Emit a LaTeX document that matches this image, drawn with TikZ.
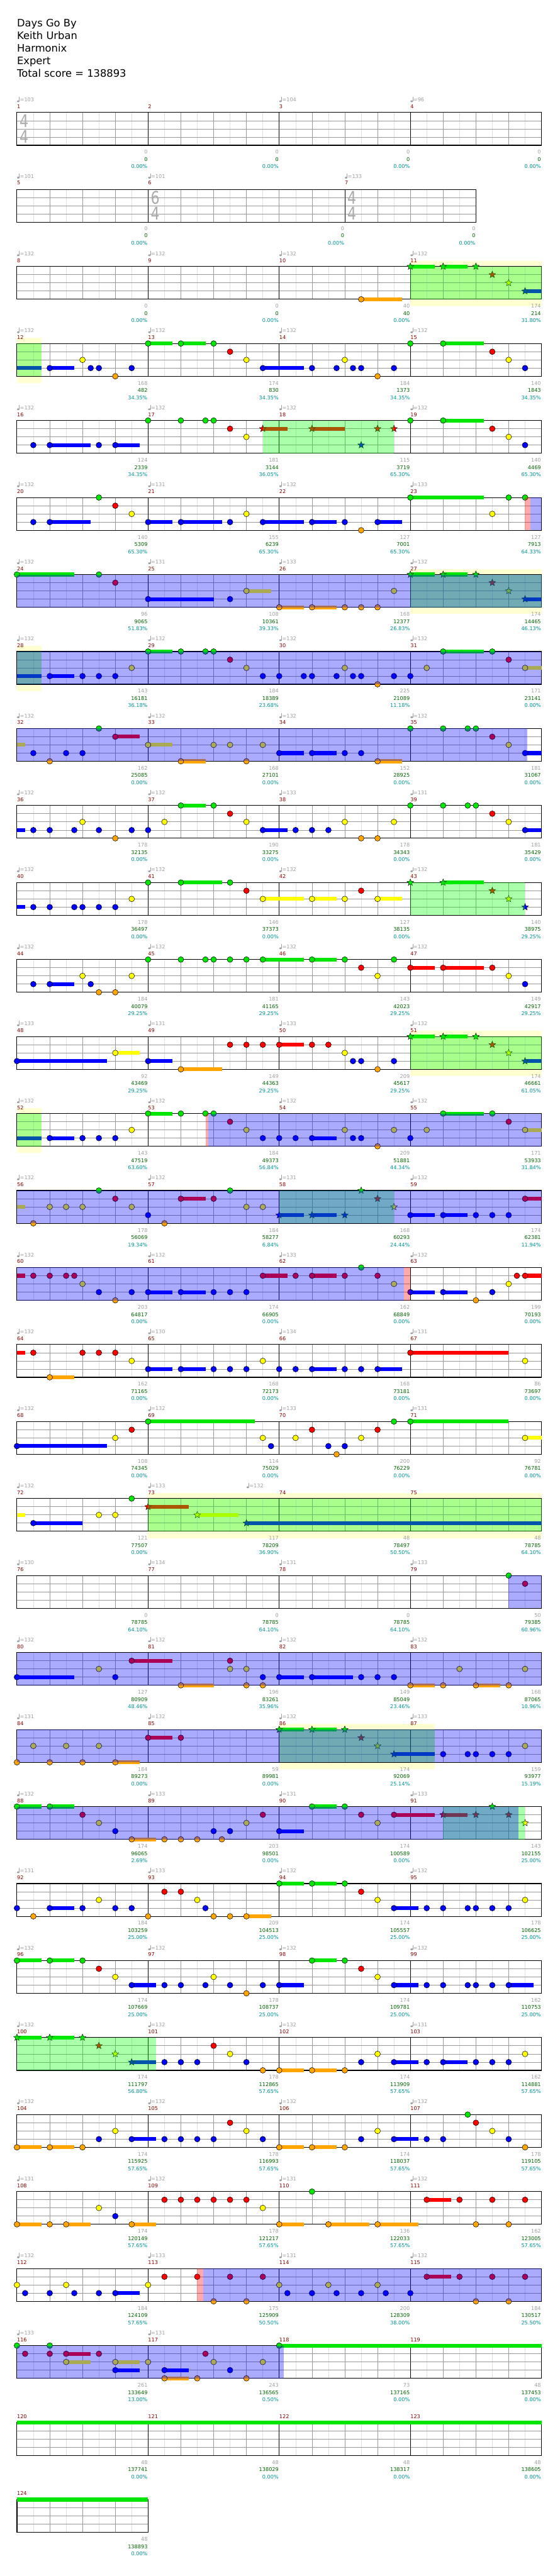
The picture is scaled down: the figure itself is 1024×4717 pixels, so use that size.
\documentclass[tikz,border=0pt]{standalone}
\usepackage{fontspec}
\setmainfont{DejaVu Sans}
\usetikzlibrary{shapes.geometric}
\definecolor{c0}{RGB}{0,230,0}
\definecolor{c1}{RGB}{255,0,0}
\definecolor{c2}{RGB}{255,255,0}
\definecolor{c3}{RGB}{0,0,255}
\definecolor{c4}{RGB}{255,165,0}
\definecolor{mred}{RGB}{140,0,0}
\definecolor{tgrey}{RGB}{160,160,160}
\definecolor{ngreen}{RGB}{0,100,0}
\definecolor{ncyan}{RGB}{0,150,150}
\definecolor{lgrey}{RGB}{153,153,153}
\definecolor{hgrey}{RGB}{222,222,222}
\definecolor{yband}{RGB}{255,255,210}
\definecolor{ovg}{RGB}{0,255,0}
\definecolor{sgrey}{RGB}{170,170,170}
\tikzset{
 num/.style={inner sep=0pt,font=\fontsize{9.4}{11}\selectfont},
 starnote/.style={star,star points=5,star point ratio=2.3,minimum size=13pt,inner sep=0pt,draw=black,line width=0.5pt},
 tsig/.style={sgrey,inner sep=0pt,anchor=base,font=\fontsize{32}{32}\selectfont,xscale=0.8},
 title/.style={inner sep=0pt,anchor=base west,font=\fontsize{18.8}{22}\selectfont}
}
\newenvironment{trow}[1]{\pgfmathsetmacro\Yr{206+141*(#1-1)}\begin{scope}[shift={(31pt,-\Yr pt)},x=60pt,y=-15pt]}{\end{scope}}
\newcommand\grid[2]{%
 \foreach \gi in {0.5,1.5,...,#1} \draw[hgrey,line width=0.6pt] (\gi,0)--(\gi,4);
 \pgfmathtruncatemacro\gNm{#1-1}%
 \foreach \gi in {1,...,\gNm} \draw[lgrey,line width=0.7pt] (\gi,0)--(\gi,4);
 \foreach \gj in {1,2,3} \draw[lgrey,line width=0.9pt] (0,\gj)--(#1,\gj);
 \foreach \gi in {#2} \draw[black,line width=0.7pt] (\gi,0)--(\gi,4);
 \draw[black,line width=1.3pt] (0,0) rectangle (#1,4);
}
\newcommand\Nt[1]{\foreach \nb/\nl in {#1}{\filldraw[fill=c\nl,draw=black,line width=0.6pt] (\nb,\nl) circle[radius=5.2pt];}}
\newcommand\Su[1]{\foreach \sa/\se/\sl in {#1}{\draw[c\sl,line width=7pt] (\sa,\sl) -- (\se,\sl);}}
\newcommand\Sr[1]{\foreach \nb/\nl in {#1}{\node[starnote,fill=c\nl] at (\nb,\nl) {};}}
\newcommand\ovG[2]{\fill[ovg,fill opacity=0.333] (#1,0) rectangle (#2,4);}
\newcommand\ovB[2]{\fill[blue,fill opacity=0.333] (#1,0) rectangle (#2,4);}
\newcommand\ovR[2]{\fill[red,fill opacity=0.333] (#1,0) rectangle (#2,4);}
\newcommand\ybnd[2]{\fill[yband] (#1,-0.69) rectangle (#2,4.82);}
\newcommand\tempo[3]{%
 \fill[tgrey] (#1+2.4,#2-20.6) ellipse (2.3pt and 1.7pt);
 \draw[tgrey,line width=0.6pt] (#1+4.4,#2-20.6) -- (#1+4.4,#2-28.5);
 \node[num,tgrey,anchor=base west] at (#1+5.3,#2-20) {=#3};}
\newcommand\stat[5]{%
 \node[num,tgrey,anchor=base east] at (#1-0.8,#2+76) {#3};
 \node[num,ngreen,anchor=base east] at (#1-0.8,#2+89.3) {#4};
 \node[num,ncyan,anchor=base east] at (#1-0.8,#2+102.5) {#5\%};}
\newcommand\mnum[3]{\node[num,mred,anchor=base west] at (#1,#2-7.5) {#3};}
\newcommand\TRow[4]{%
 \pgfmathsetmacro\Yr{206+141*(#1-1)}%
 \foreach \tt [count=\tk from 0] in {#3} {\ifnum\tt>0 \tempo{31+240*\tk}{\Yr}{\tt}\fi}
 \foreach \tk in {0,...,3} {\pgfmathtruncatemacro\mm{#2+\tk}\mnum{31+240*\tk}{\Yr}{\mm}}
 \foreach \sg/\sn/\sp [count=\tk] in {#4} {\stat{31+240*\tk}{\Yr}{\sg}{\sn}{\sp}}
}
\begin{document}
\begin{tikzpicture}[x=1pt,y=-1pt]
\useasboundingbox (0,0) rectangle (1024,4717);
\fill[white] (0,0) rectangle (1024,4717);
\node[title] (t1) at (31,49) {Days Go By};
\node[title] (t2) at (31,72) {Keith Urban};
\node[title] (t3) at (31,95) {Harmonix};
\node[title] (t4) at (31,118) {Expert};
\node[title] (t5) at (31,141) {Total score = 138893};
% row 1
\begin{trow}{1}\grid{16}{4,8,12}\end{trow}
\node[tsig] at (44,233.3) {4};
\node[tsig] at (44,261.7) {4};
% row 2
\begin{trow}{2}\grid{14}{4,10}\end{trow}
\node[tsig] at (284,373.3) {6};
\node[tsig] at (284,403) {4};
\node[tsig] at (644,373.3) {4};
\node[tsig] at (644,403) {4};
% row 3
\begin{trow}{3}\ybnd{12}{16}\grid{16}{4,8,12}
\Su{10.5/11.75/4, 12/12.75/0, 13/13.75/0, 15.5/16/3}
\Nt{10.5/4}
\Sr{12/0,13/0,14/0,14.5/1,15/2,15.5/3}
\ovG{12}{16}\end{trow}
% row 4
\begin{trow}{4}\ybnd{0}{0.75}\grid{16}{4,8,12}
\Su{0/0.75/3, 1/1.75/3, 4/4.75/0, 5/5.75/0, 7.5/8.75/3, 13/14.25/0}
\Nt{1/3, 2/2, 2.25/3, 2.5/3, 3/4, 3.5/3, 4/0, 5/0, 6/0, 6.5/1, 7/2, 7.5/3, 9/3, 9.75/3, 10/2, 10.25/3, 10.5/3, 11/4, 11.5/3, 12/0, 13/0, 14.5/1, 15/2, 15.5/3}
\ovG{0}{0.75}\end{trow}
% row 5
\begin{trow}{5}\grid{16}{4,8,12}
\Su{1/2.25/3, 3/3.75/3, 7.5/8.25/1, 9/10/1, 13/14.25/0}
\Nt{0.5/3, 1/3, 2.5/3, 3/3, 4/0, 5/0, 5.75/0, 6/0, 6.5/1, 7/2, 12/0, 13/0, 14.5/1, 15/2, 15.5/3}
\Sr{7.5/1, 9/1, 10.5/3, 11/1, 11.5/1}
\ovG{7.5}{11.5}\end{trow}
% row 6
\begin{trow}{6}\grid{16}{4,8,12}
\Su{1/2.25/3, 4/4.75/3, 5/6.25/3, 7.5/8.75/3, 9/9.75/3, 11/11.75/3, 12/14.25/0}
\Nt{0.5/3, 1/3, 2.5/0, 3/1, 3.5/2, 4/3, 5/3, 6.5/3, 7/2, 7.5/3, 9/3, 10/3, 10.5/4, 11/3, 12/0, 14.5/2, 15/0, 15.5/0}
\ovR{15.5}{15.67}\ovB{15.67}{16}\end{trow}
% row 7
\begin{trow}{7}\ybnd{12}{16}\grid{16}{4,8,12}
\Su{0/1.75/0, 4/6/3, 7/7.75/2, 8/8.75/4, 9/9.75/4, 12/12.75/0, 13/13.75/0, 15.5/16/3}
\Nt{0/0, 2.5/0, 3/1, 4/3, 6.5/3, 7/2, 8/4, 9/4, 10/4, 10.5/4, 11/4, 11.5/2}
\Sr{12/0,13/0,14/0,14.5/1,15/2,15.5/3}
\ovG{12}{16}\ovB{0}{16}\end{trow}
% row 8
\begin{trow}{8}\ybnd{0}{0.75}\grid{16}{4,8,12}
\Su{0/0.75/3, 1/1.75/3, 4/4.75/0, 13/14.25/0, 15.5/16/2}
\Nt{1/3, 2/3, 2.5/3, 3/3, 3.5/2, 4/0, 5/0, 5.75/0, 6/0, 6.5/1, 7/2, 7.5/3, 8/3, 8.75/3, 9/3, 9.75/3, 10/2, 10.25/3, 10.5/3, 11/4, 11.5/3, 12/3, 12.5/2, 13/0, 14.5/0, 15/1, 15.5/2}
\ovG{0}{0.75}\ovB{0}{16}\end{trow}
% row 9
\begin{trow}{9}\grid{16}{4,8,12}
\Su{0/0.25/2, 3/3.75/1, 4/4.75/2, 5/5.75/4, 8/8.75/3, 9/9.75/3, 11/11.75/4, 15.5/16/3}
\Nt{0.5/3, 1/4, 1.5/3, 2/3, 2.5/0, 3/1, 4/2, 5/4, 6/2, 6.5/2, 7/4, 7.5/2, 8/3, 9/3, 10/3, 10.5/3, 11/4, 12/0, 13/0, 13.75/0, 14/0, 14.5/1, 15/2, 15.5/3}
\ovB{0}{15.57}\end{trow}
% row 10
\begin{trow}{10}\grid{16}{4,8,12}
\Su{0/0.25/3, 5/5.75/0, 7.5/8.25/3, 15.5/16/3}
\Nt{0.5/3, 1/3, 1.75/3, 2/2, 2.5/3, 3/4, 3.5/3, 4/3, 4.5/2, 5/0, 6/0, 6.5/1, 7/2, 7.5/3, 8.5/3, 9/3, 9.5/3, 10/2, 10.5/4, 11/4, 11.5/2, 12/0, 13/0, 13.75/0, 14/0, 14.5/1, 15/2, 15.5/3}
\end{trow}
% row 11
\begin{trow}{11}\grid{16}{4,8,12}
\Su{0/0.25/3, 5/6.25/0, 7.5/8.75/2, 9/9.75/2, 11/11.75/2, 13/14.25/0}
\Nt{0.5/3, 1/3, 1.75/3, 2/3, 2.5/3, 3/3, 3.5/2, 4/0, 5/0, 6.5/0, 7/1, 7.5/2, 9/2, 10/2, 10.5/1, 11/2}
\Sr{12/0, 13/0, 14.5/1, 15/2, 15.5/3}
\ovG{12}{15.5}\end{trow}
% row 12
\begin{trow}{12}\grid{16}{4,8,12}
\Su{1/1.75/3, 7.5/8.75/0, 9/9.75/0, 12/12.75/1, 13/14.25/1}
\Nt{0.5/3, 1/3, 2/2, 2.25/3, 2.5/4, 3/4, 3.5/2, 4/0, 5/0, 5.75/0, 6/0, 6.5/0, 7/0, 7.5/0, 9/0, 10/0, 10.5/1, 11/2, 11.5/0, 12/1, 13/1, 14.5/1, 15/2, 15.5/3}
\end{trow}
% row 13
\begin{trow}{13}\ybnd{12}{16}\grid{16}{4,8,12}
\Su{0/2.75/3, 3/3.75/2, 4/4.75/3, 5/6.25/4, 8/8.75/1, 12/12.75/0, 13/13.75/0, 15.5/16/3}
\Nt{0/3, 3/2, 4/3, 5/4, 6.5/1, 7/1, 7.5/1, 8/1, 9/1, 9.5/1, 10/2, 10.25/3, 10.5/3, 11/4, 11.5/3}
\Sr{12/0,13/0,14/0,14.5/1,15/2,15.5/3}
\ovG{12}{16}\end{trow}
% row 14
\begin{trow}{14}\ybnd{0}{0.75}\grid{16}{4,8,12}
\Su{0/0.75/3, 1/1.75/3, 4/4.75/0, 9/9.75/3, 13/14.25/0, 15.5/16/2}
\Nt{1/3, 2/3, 2.5/3, 3/3, 3.5/2, 4/0, 5/0, 5.75/0, 6/0, 6.5/1, 7/2, 7.5/3, 8/3, 8.5/3, 9/3, 10/2, 10.25/3, 10.5/3, 11/4, 11.5/2, 12/3, 12.5/2, 13/0, 14.5/0, 15/1, 15.5/2}
\ovG{0}{0.75}\ovR{5.75}{5.83}\ovB{5.83}{16}\end{trow}
% row 15
\begin{trow}{15}\grid{16}{4,8,12}
\Su{0/0.25/2, 5/5.75/1, 8/8.75/3, 9/9.75/3, 12/12.75/3, 13/13.75/3, 15.5/16/1}
\Nt{0.5/4, 1/2, 1.5/2, 2/2, 2.5/0, 3/1, 3.5/2, 4/3, 4.5/4, 5/1, 6/1, 6.5/0, 7/2, 7.5/2, 12/3, 13/3, 14/3, 14.5/3, 15/3, 15.5/1}
\Sr{8/3, 9/3, 10/3, 10.5/0, 11/1, 11.5/2}
\ovG{8}{11.5}\ovB{0}{16}\end{trow}
% row 16
\begin{trow}{16}\grid{16}{4,8,12}
\Su{0/0.25/1, 4/4.75/3, 5/5.75/3, 7.5/8.25/1, 9/9.75/1, 12/12.75/3, 13/13.75/3, 15.5/16/1}
\Nt{0.5/1, 1/1, 1.5/1, 1.75/1, 2/2, 2.5/3, 3/4, 3.5/3, 4/3, 5/3, 6/3, 6.5/3, 7/3, 7.5/1, 8.5/1, 9/1, 10/1, 10.5/0, 11/1, 11.5/2, 12/3, 13/3, 14/4, 14.5/3, 15/2, 15.25/1, 15.5/1}
\ovB{0}{11.81}\ovR{11.81}{12}\end{trow}
% row 17
\begin{trow}{17}\grid{16}{4,8,12}
\Su{0/0.25/1, 1/1.75/4, 4/4.75/3, 5/5.75/3, 9/9.75/3, 11/11.75/3, 12/15/1}
\Nt{0.5/1, 1/4, 2/1, 2.5/1, 3/1, 3.5/2, 4/3, 5/3, 6/3, 6.5/3, 7/3, 7.5/2, 8/3, 8.5/3, 9/3, 10/3, 10.5/3, 11/3, 12/1, 15.5/2}
\end{trow}
% row 18
\begin{trow}{18}\grid{16}{4,8,12}
\Su{0/2.75/3, 4/7.25/0, 12/15/0, 15.5/16/2}
\Nt{0/3, 3/2, 3.5/1, 4/0, 7.5/2, 7.75/3, 8.5/2, 9/1, 9.5/3, 9.75/4, 10/3, 10.5/2, 11/1, 11.5/0, 12/0, 15.5/2}
\end{trow}
% row 19
\begin{trow}{19}\ybnd{4}{16}\grid{16}{4,8,12}
\Su{0/0.25/2, 0.5/2/3, 4/5.25/1, 5.5/6.75/2, 7/16/3}
\Nt{0.5/3, 2.5/2, 3/2, 3.5/0}
\Sr{4/1, 5.5/2, 7/3}
\ovG{4}{16}\end{trow}
% row 20
\begin{trow}{20}\grid{16}{4,8,12}
\Nt{15/0, 15.5/1}
\ovB{15}{16}\end{trow}
% row 21
\begin{trow}{21}\grid{16}{4,8,12}
\Su{0/1.75/3, 3.5/4.75/1, 5/6/4, 8/8.75/3, 9/10.25/3, 12/12.75/4, 14/14.75/4}
\Nt{0/3, 2.5/2, 3/3, 3.5/1, 5/4, 6.5/1, 6.5/2, 7/2, 7/4, 7.5/3, 7.5/4, 8/3, 9/3, 10.5/3, 11/3, 11.5/3, 12/4, 13/4, 13.5/2, 14/4, 15/4, 15.5/2}
\ovB{0}{16}\end{trow}
% row 22
\begin{trow}{22}\ybnd{8}{12.75}\grid{16}{4,8,12}
\Su{3/3.75/4, 4/4.75/1, 8/8.75/0, 9/9.75/0, 11.5/12.75/3}
\Nt{0/4, 0.5/2, 1/4, 1.5/2, 2/4, 2.5/2, 3/4, 4/1, 5/1, 13/3, 13.75/3, 14/3, 14.5/3, 15/3, 15.5/2}
\Sr{8/0, 9/0, 10/0, 10.5/1, 11/2, 11.5/3}
\ovG{8}{12.75}\ovB{0}{16}\end{trow}
% row 23
\begin{trow}{23}\grid{16}{4,8,12}
\Su{0/0.75/0, 1/1.75/0, 3.5/4.25/4, 8/8.75/3, 9/9.75/0, 11.5/12.75/1, 13/13.75/1}
\Nt{0/0, 1/0, 2/1, 2.5/2, 3/3, 3.5/4, 4.5/4, 5/4, 5.5/4, 6/3, 6.25/4, 6.5/3, 7/2, 7.5/1, 8/3, 9/0, 10/0, 10.5/1, 11/2, 11.5/1}
\Sr{13/1, 14/1, 14.5/0, 15/1, 15.5/2}
\ovG{13}{15.5}\ovB{0}{15.29}\end{trow}
% row 24
\begin{trow}{24}\grid{16}{4,8,12}
\Su{1/1.75/3, 7/7.75/4, 8/8.75/0, 9/9.75/0, 11.5/12.25/3}
\Nt{0/3, 0.5/4, 1/3, 2/3, 2.5/2, 3/3, 3.5/3, 4/4, 4.5/1, 5/1, 5.5/2, 5.75/3, 6/4, 6.5/4, 7/4, 8/0, 9/0, 10/0, 10.5/1, 11/2, 11.5/3, 12.5/3, 13/3, 13.75/3, 14/3, 14.5/3, 15/3, 15.5/2}
\end{trow}
% row 25
\begin{trow}{25}\grid{16}{4,8,12}
\Su{0/0.75/0, 1/1.75/0, 3.5/4.25/3, 8/8.75/3, 9/9.75/0, 11.5/12.25/3, 15/15.75/3}
\Nt{0/0, 1/0, 2/0, 2.5/1, 3/2, 3.5/3, 4.5/3, 5/3, 5.75/3, 6/2, 6.5/3, 7/4, 7.5/3, 8/3, 9/0, 10/0, 10.5/1, 11/2, 11.5/3, 12.5/3, 13/3, 13.75/3, 14/3, 14.5/3, 15/3}
\end{trow}
% row 26
\begin{trow}{26}\grid{16}{4,8,12}
\Su{0/0.75/0, 1/1.75/0, 3.5/4.25/3, 8/8.75/4, 9/9.75/4, 11.5/12.25/3, 13/13.75/3}
\Nt{4.5/3, 5/3, 5.5/3, 6/1, 6.5/2, 7/3, 7.5/4, 8/4, 9/4, 10/4, 10.5/3, 11/2, 11.5/3, 12.5/3, 13/3, 14/3, 14.5/3, 15/3, 15.5/2}
\Sr{0/0, 1/0, 2/0, 2.5/1, 3/2, 3.5/3}
\ovG{0}{4.25}\end{trow}
% row 27
\begin{trow}{27}\grid{16}{4,8,12}
\Su{0/0.75/4, 1/1.75/4, 3.5/4.25/3, 8/8.75/4, 9/9.75/4, 11.5/12.25/3}
\Nt{0/4, 1/4, 2/4, 2.5/3, 3/2, 3.5/3, 4.5/3, 5/3, 5.5/3, 6/3, 6.5/1, 7/2, 7.5/3, 8/4, 9/4, 10/4, 10.5/3, 11/2, 11.5/3, 12.5/3, 13/3, 13.75/0, 14/1, 14.5/2, 15/3, 15.5/4}
\end{trow}
% row 28
\begin{trow}{28}\grid{16}{4,8,12}
\Su{0/0.75/4, 1.5/2.25/4, 3.5/4.25/4, 8/8.75/4, 9.5/10.75/4, 11/12.25/4, 12.5/13.25/1}
\Nt{0/4, 1/4, 1.5/4, 2.5/2, 3/3, 3.5/4, 4.5/1, 5/1, 5.5/1, 6/1, 6.5/1, 7/1, 7.5/2, 8/4, 9/0, 9.5/4, 11/4, 12.5/1, 13.5/1, 14/4, 14.5/1, 15/4, 15.5/1}
\end{trow}
% row 29
\begin{trow}{29}\grid{16}{4,8,12}
\Su{3/3.75/3, 12.5/13.25/1}
\Nt{0/2, 0.25/3, 1/3, 1.5/2, 1.75/3, 2.5/3, 3/3, 4/2, 4.5/1, 5.5/1, 6/4, 6.5/1, 7/4, 7.5/1, 8/2, 8.25/3, 9/3, 9.5/2, 9.75/3, 10.5/3, 11/2, 11.25/3, 12/3, 12.5/1, 13.5/1, 14/4, 14.5/1, 15/4, 15.5/1}
\ovR{5.5}{5.69}\ovB{5.69}{16}\end{trow}
% row 30
\begin{trow}{30}\grid{16}{4,8,12}
\Su{1.5/2.25/1, 1.5/2.25/2, 3/3.75/2, 3/3.75/3, 4.5/5.25/4, 4.5/5.25/3, 8/16/0}
\Nt{0/0, 0.25/1, 1/0, 1/1, 1.5/1, 1.5/2, 2.5/1, 3/2, 3/3, 4/2, 4.5/4, 4.5/3, 5.5/4, 5.75/1, 6/2, 6.5/3, 7/4, 7.5/2, 8/0}
\ovB{0}{8.13}\end{trow}
% row 31
\begin{trow}{31}\grid{16}{4,8,12}
\Su{0/16/0}\end{trow}
% row 32
\begin{trow}{32}\grid{4}{0}
\Su{0/4/0}\end{trow}
% ---------- texts ----------
\TRow{1}{1}{103,0,104,96}{0/0/0.00,0/0/0.00,0/0/0.00,0/0/0.00}
\tempo{31}{346}{101}\tempo{271}{346}{101}\tempo{631}{346}{133}
\mnum{31}{346}{5}\mnum{271}{346}{6}\mnum{631}{346}{7}
\stat{271}{346}{0}{0}{0.00}\stat{631}{346}{0}{0}{0.00}\stat{871}{346}{0}{0}{0.00}
\TRow{3}{8}{132,132,132,132}{0/0/0.00,0/0/0.00,40/40/0.00,174/214/31.80}
\TRow{4}{12}{132,132,132,132}{168/482/34.35,174/830/34.35,184/1373/34.35,140/1843/34.35}
\TRow{5}{16}{132,132,132,132}{124/2339/34.35,181/3144/36.05,115/3719/65.30,140/4469/65.30}
\TRow{6}{20}{132,131,132,133}{140/5309/65.30,155/6239/65.30,127/7001/65.30,127/7913/64.33}
\TRow{7}{24}{132,131,133,132}{96/9065/51.83,108/10361/39.33,168/12377/26.83,174/14465/46.13}
\TRow{8}{28}{132,132,132,132}{143/16181/36.18,184/18389/23.68,225/21089/11.18,171/23141/0.00}
\TRow{9}{32}{132,132,132,132}{162/25085/0.00,168/27101/0.00,152/28925/0.00,181/31067/0.00}
\TRow{10}{36}{132,132,133,131}{178/32135/0.00,190/33275/0.00,178/34343/0.00,181/35429/0.00}
\TRow{11}{40}{132,132,132,132}{178/36497/0.00,146/37373/0.00,127/38135/0.00,140/38975/29.25}
\TRow{12}{44}{132,132,132,132}{184/40079/29.25,181/41165/29.25,143/42023/29.25,149/42917/29.25}
\TRow{13}{48}{133,131,133,132}{92/43469/29.25,149/44363/29.25,209/45617/29.25,174/46661/61.05}
\TRow{14}{52}{132,132,132,132}{143/47519/63.60,184/49373/56.84,209/51881/44.34,171/53933/31.84}
\TRow{15}{56}{132,132,131,132}{178/56069/19.34,184/58277/6.84,168/60293/24.44,174/62381/11.94}
\TRow{16}{60}{132,132,133,132}{203/64817/0.00,174/66905/0.00,162/68849/0.00,199/70193/0.00}
\TRow{17}{64}{132,130,134,131}{162/71165/0.00,168/72173/0.00,168/73181/0.00,86/73697/0.00}
\TRow{18}{68}{132,132,133,131}{108/74345/0.00,114/75029/0.00,200/76229/0.00,92/76781/0.00}
\TRow{19}{72}{132,133,0,0}{121/77507/0.00,117/78209/36.90,48/78497/50.50,48/78785/64.10}
\tempo{451}{2744}{132}
\TRow{20}{76}{130,134,131,133}{0/78785/64.10,0/78785/64.10,0/78785/64.10,50/79385/60.96}
\TRow{21}{80}{132,132,132,132}{127/80909/48.46,196/83261/35.96,149/85049/23.46,168/87065/10.96}
\TRow{22}{84}{131,132,132,133}{184/89273/0.00,59/89981/0.00,174/92069/25.14,159/93977/15.19}
\TRow{23}{88}{132,133,131,133}{174/96065/2.69,203/98501/0.00,174/100589/0.00,143/102155/25.00}
\TRow{24}{92}{131,133,132,132}{184/103259/25.00,209/104513/25.00,174/105557/25.00,178/106625/25.00}
\TRow{25}{96}{132,132,132,132}{174/107669/25.00,178/108737/25.00,174/109781/25.00,162/110753/25.00}
\TRow{26}{100}{132,132,132,131}{174/111797/56.80,178/112865/57.65,174/113909/57.65,162/114881/57.65}
\TRow{27}{104}{132,132,132,132}{174/115925/57.65,178/116993/57.65,174/118037/57.65,178/119105/57.65}
\TRow{28}{108}{131,132,131,132}{174/120149/57.65,178/121217/57.65,136/122033/57.65,162/123005/57.65}
\TRow{29}{112}{132,133,131,132}{184/124109/57.65,175/125909/50.50,200/128309/38.00,184/130517/25.50}
\TRow{30}{116}{133,131,0,0}{261/133649/13.00,243/136565/0.50,73/137165/0.00,48/137453/0.00}
\TRow{31}{120}{0,0,0,0}{48/137741/0.00,48/138029/0.00,48/138317/0.00,48/138605/0.00}
\mnum{31}{4577}{124}
\stat{271}{4577}{48}{138893}{0.00}
\end{tikzpicture}
\end{document}
